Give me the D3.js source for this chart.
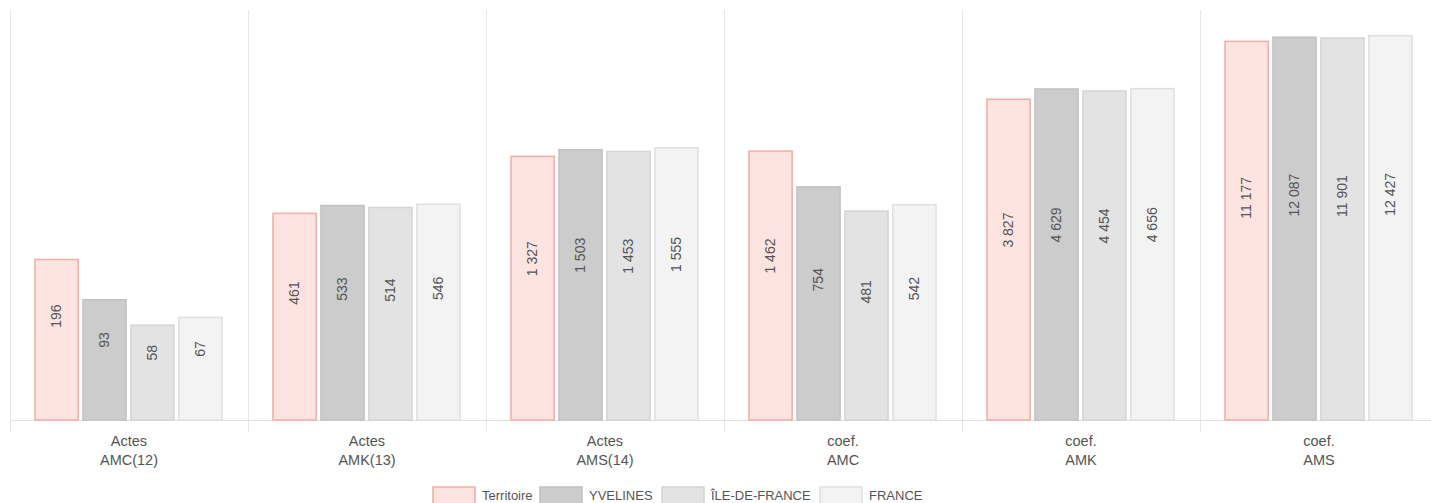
<!DOCTYPE html>
<html>
<head>
<meta charset="utf-8">
<script src="https://cdn.jsdelivr.net/npm/d3@7"></script>
<style>
  body { margin: 0; background: #fff; }
  svg { display: block; font-family: "Liberation Sans", Arial, sans-serif; }
</style>
</head>
<body>
<svg id="chart"></svg>
<script>
// categories (two-line labels) and series
var categories = ["Actes|AMC(12)", "Actes|AMK(13)", "Actes|AMS(14)", "coef.|AMC", "coef.|AMK", "coef.|AMS"];
var seriesNames = ["Territoire", "YVELINES", "ÎLE-DE-FRANCE", "FRANCE"];
var territoire = [196, 461, 1327, 1462, 3827, 11177];
var yvelines = [93, 533, 1503, 754, 4629, 12087];
var ileDeFrance = [58, 514, 1453, 481, 4454, 11901];
var france = [67, 546, 1555, 542, 4656, 12427];

var fills = ["#fde4e1", "#cccccc", "#e3e3e3", "#f3f3f3"];
var strokes = ["#f4aca3", "#c2c2c2", "#d4d4d4", "#e0e0e0"];

const width = 1431, height = 503;
const plotLeft = 10, bandW = 238, base = 420, plotTop = 10;

var svg = d3.select("#chart").attr("width", width).attr("height", height);

var allSeries = [territoire, yvelines, ileDeFrance, france];
var data = categories.map(function (c, i) {
    return { cat: c, values: allSeries.map((s, k) => ({ name: seriesNames[k], k: k, v: s[i] })) };
});

var x0 = d3.scaleBand().domain(categories).range([plotLeft, plotLeft + bandW * categories.length]);
var x1 = d3.scaleBand().domain(seriesNames).range([25, 212]).paddingInner(0.1);
var y = d3.scaleLog().domain([10, 20000]).range([base, plotTop]);

var fmt = d3.formatLocale({ decimal: ",", thousands: " ", grouping: [3], currency: ["", "€"] }).format(",d");

// vertical grid lines at band edges
var edges = categories.map(c => x0(c));
svg.append("g").selectAll("line")
    .data(edges)
    .enter().append("line")
    .attr("x1", d => d + 0.5).attr("x2", d => d + 0.5)
    .attr("y1", plotTop).attr("y2", base + 12)
    .attr("stroke", "#e6e6e6");

// baseline
svg.append("line")
    .attr("x1", plotLeft).attr("x2", width)
    .attr("y1", base + 0.5).attr("y2", base + 0.5)
    .attr("stroke", "#e0e0e0");

var groups = svg.append("g").selectAll("g")
    .data(data)
    .enter().append("g")
    .attr("transform", d => "translate(" + x0(d.cat) + ",0)");

groups.selectAll("rect")
    .data(d => d.values)
    .enter().append("rect")
    .attr("x", d => x1(d.name))
    .attr("y", d => y(d.v))
    .attr("width", x1.bandwidth())
    .attr("height", d => base - y(d.v))
    .attr("fill", d => fills[d.k])
    .attr("stroke", d => strokes[d.k])
    .attr("stroke-width", 1.5);

// value labels, rotated
groups.selectAll("text.val")
    .data(d => d.values)
    .enter().append("text")
    .attr("class", "val")
    .attr("transform", function (d) {
        var cx = x1(d.name) + x1.bandwidth() / 2;
        var cy = (y(d.v) + base) / 2 - 12;
        return "translate(" + cx + "," + cy + ") rotate(-90)";
    })
    .attr("dy", "0.35em")
    .attr("text-anchor", "start")
    .style("font-size", "14px")
    .attr("fill", "#555")
    .text(d => fmt(d.v));

// category labels
var catLabels = svg.append("g").selectAll("text")
    .data(categories)
    .enter().append("text")
    .attr("x", d => x0(d) + bandW / 2)
    .attr("y", 446)
    .attr("text-anchor", "middle")
    .style("font-size", "14.5px")
    .attr("fill", "#555");
catLabels.each(function (d) {
    var parts = d.split("|");
    d3.select(this).append("tspan").attr("x", x0(d) + bandW / 2).text(parts[0]);
    d3.select(this).append("tspan").attr("x", x0(d) + bandW / 2).attr("dy", 19).text(parts[1]);
});

// legend
var legendX = [433, 540, 662, 820];
var legend = svg.append("g").selectAll("g")
    .data(seriesNames)
    .enter().append("g")
    .attr("transform", (d, i) => "translate(" + legendX[i] + ",487)");
legend.append("rect")
    .attr("width", 42).attr("height", 20)
    .attr("fill", (d, i) => fills[i])
    .attr("stroke", (d, i) => strokes[i])
    .attr("stroke-width", 1.5);
legend.append("text")
    .attr("x", 49).attr("y", 13)
    .style("font-size", "13px")
    .attr("fill", "#555")
    .text(d => d);
</script>
</body>
</html>
